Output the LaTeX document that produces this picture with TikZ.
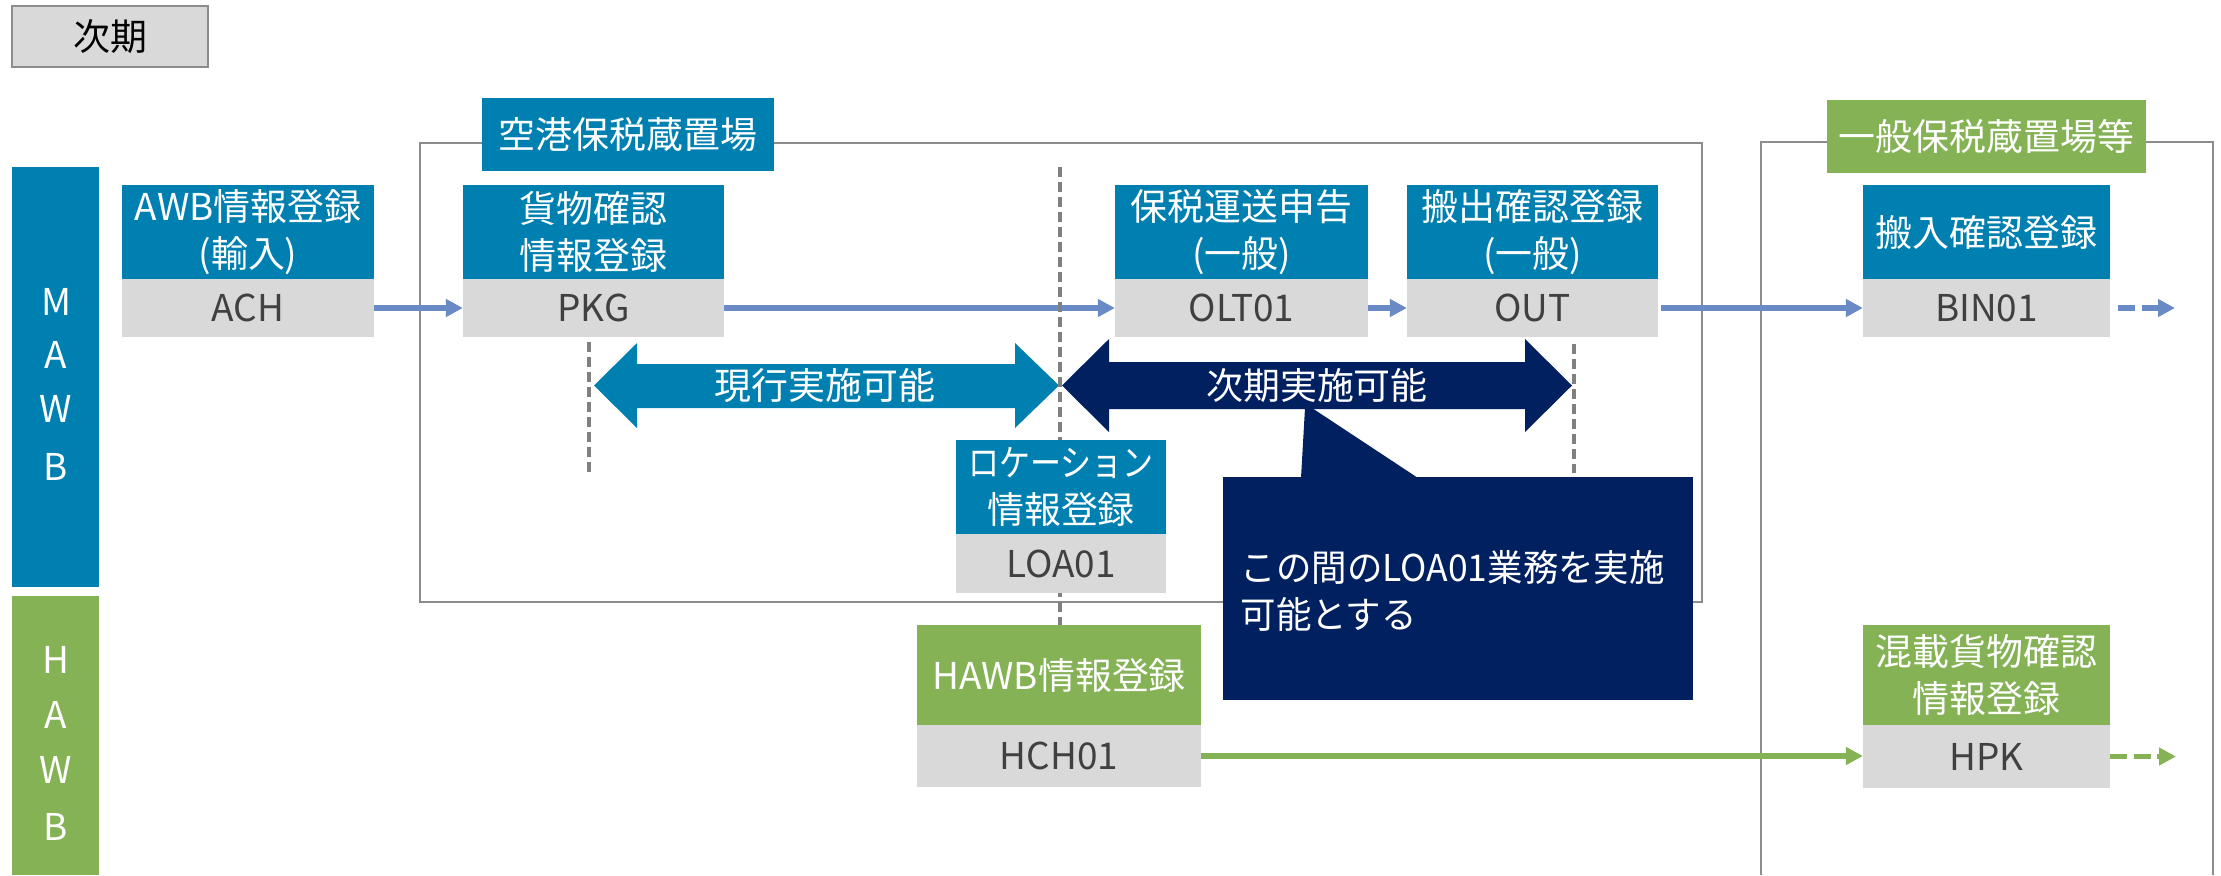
\documentclass[tikz,border=0pt]{standalone}
\usepackage{fontspec}
\setmainfont{Noto Sans CJK JP}
\usetikzlibrary{arrows.meta}
\definecolor{cblue}{HTML}{0080B0}
\definecolor{cnavy}{HTML}{002060}
\definecolor{cgreen}{HTML}{84B254}
\definecolor{cgray}{HTML}{D9D9D9}
\definecolor{cline}{HTML}{6A8AC6}
\definecolor{ctext}{HTML}{404040}
\definecolor{cframe}{HTML}{8C8C8C}
\definecolor{cdash}{HTML}{808080}
\begin{document}
\begin{tikzpicture}[x=0.01cm,y=-0.01cm,
  every node/.style={font=\fontsize{10.5pt}{13.4pt}\selectfont},
  hdr/.style={fill=cblue, text=white, inner sep=0pt, outer sep=0pt, align=center},
  ghdr/.style={hdr, fill=cgreen},
  codebox/.style={fill=cgray, text=ctext, inner sep=0pt, outer sep=0pt},
  bar/.style={inner sep=0pt, outer sep=0pt, minimum width=0.87cm},
  barletter/.style={text=white},
  conn/.style={line width=0.055cm, draw=cline, -{Triangle[length=0.17cm,width=0.17cm]}},
  gconn/.style={conn, draw=cgreen},
  frameline/.style={draw=cframe, line width=0.02cm},
  vdash/.style={draw=cdash, line width=0.04cm, dash pattern=on 0.1cm off 0.05cm},
  dashconn/.style={dash pattern=on 0.17cm off 0.065cm},
]
\useasboundingbox (0,0) rectangle (2221,875);

% title
\node[draw=cframe, line width=0.02cm, fill=cgray, minimum width=1.96cm, minimum height=0.61cm, inner sep=0pt] (title) at (110,36.5) {次期};

% side bars
\node[bar, fill=cblue, minimum height=4.20cm] (mawb) at (55.5,377) {};
\node[bar, fill=cgreen, minimum height=2.79cm] (hawb) at (55.5,735.5) {};
\node[barletter] (m1) at (56,302) {M};
\node[barletter] (m2) at (56,355) {A};
\node[barletter] (m3) at (56,409) {W};
\node[barletter] (m4) at (56,467) {B};
\node[barletter] (h1) at (56,660) {H};
\node[barletter] (h2) at (56,715) {A};
\node[barletter] (h3) at (56,770) {W};
\node[barletter] (h4) at (56,827) {B};

% region frames
\draw[frameline] (420,143) rectangle (1702,602);
\draw[frameline] (1761,875) -- (1761,142) -- (2213,142) -- (2213,875);
\node[hdr, minimum width=2.92cm, minimum height=0.73cm] (reg1lbl) at (628,134.5) {空港保税蔵置場};
\node[ghdr, minimum width=3.19cm, minimum height=0.73cm] (reg2lbl) at (1986.5,136.5) {一般保税蔵置場等};

% callout
\fill[cnavy] (1223,477) rectangle (1693,700);
\fill[cnavy] (1301,478) -- (1305,408) -- (1312,408) -- (1418,478) -- cycle;
\node[text=white, align=left, anchor=west, inner sep=0pt] (note) at (1240,591) {\scalebox{0.96}[1]{この間のLOA01業務を実施}\\\scalebox{0.96}[1]{可能とする}};

% process boxes
\node[hdr, minimum width=2.52cm, minimum height=0.94cm] (achH) at (248,232) {AWB情報登録\\(輸入)};
\node[codebox, minimum width=2.52cm, minimum height=0.58cm] (achC) at (248,308) {ACH};

\node[hdr, minimum width=2.61cm, minimum height=0.94cm] (pkgH) at (593.5,232) {貨物確認\\情報登録};
\node[codebox, minimum width=2.61cm, minimum height=0.58cm] (pkgC) at (593.5,308) {PKG};

\node[hdr, minimum width=2.53cm, minimum height=0.94cm] (oltH) at (1241.5,232) {保税運送申告\\(一般)};
\node[codebox, minimum width=2.53cm, minimum height=0.58cm] (oltC) at (1241.5,308) {OLT01};

\node[hdr, minimum width=2.51cm, minimum height=0.94cm] (outH) at (1532.5,232) {搬出確認登録\\(一般)};
\node[codebox, minimum width=2.51cm, minimum height=0.58cm] (outC) at (1532.5,308) {OUT};

\node[hdr, minimum width=2.47cm, minimum height=0.94cm] (binH) at (1986.5,232) {搬入確認登録};
\node[codebox, minimum width=2.47cm, minimum height=0.58cm] (binC) at (1986.5,308) {BIN01};

\node[ghdr, minimum width=2.84cm, minimum height=1.00cm] (hchH) at (1059,675) {HAWB情報登録};
\node[codebox, minimum width=2.84cm, minimum height=0.62cm] (hchC) at (1059,756) {HCH01};

\node[ghdr, minimum width=2.47cm, minimum height=1.00cm] (hpkH) at (1986.5,675) {混載貨物確認\\情報登録};
\node[codebox, minimum width=2.47cm, minimum height=0.63cm] (hpkC) at (1986.5,756.5) {HPK};

% connectors
\draw[conn] (achC.east) -- (pkgC.west);
\draw[conn] (pkgC.east) -- (oltC.west);
\draw[conn] (oltC.east) -- (outC.west);
\draw[conn, shorten <=0.03cm] (outC.east) -- (binC.west);
\coordinate (binEnd) at (2175,308);
\draw[conn, dashconn, shorten <=0.08cm] (binC.east) -- (binEnd);
\draw[gconn] (hchC.east) -- (hpkC.west |- hchC.east);
\coordinate (hpkEnd) at (2176,756.5);
\draw[gconn, dashconn] (hpkC.east) -- (hpkEnd);

% block arrows
\fill[cblue] (594,385.5) -- (637,343) -- (637,364) -- (1015,364) -- (1015,343) -- (1059,385.5)
  -- (1015,428) -- (1015,408) -- (637,408) -- (637,428) -- cycle;
\node[text=white] (genko) at (825,386) {現行実施可能};
\fill[cnavy] (1062,385.5) -- (1109,339) -- (1109,362) -- (1525,362) -- (1525,339) -- (1572,385.5)
  -- (1525,432) -- (1525,409) -- (1109,409) -- (1109,432) -- cycle;
\node[text=white] (jiki) at (1317,386) {次期実施可能};

% dashed guide lines
\coordinate (d1top) at (1060,167);
\draw[vdash] (d1top) -- (hchH.north -| d1top);
\coordinate (d2top) at (589,342);
\coordinate (d2bot) at (589,476);
\draw[vdash] (d2top) -- (d2bot);
\coordinate (d3top) at (1574,344);
\coordinate (d3bot) at (1574,473);
\draw[vdash] (d3top) -- (d3bot);

% location box (on top of dashed line)
\node[hdr, minimum width=2.10cm, minimum height=0.94cm] (loaH) at (1061,487) {\scalebox{0.84}[1]{ロケーション}\\情報登録};
\node[codebox, minimum width=2.10cm, minimum height=0.59cm] (loaC) at (1061,563.5) {LOA01};
\end{tikzpicture}
\end{document}
